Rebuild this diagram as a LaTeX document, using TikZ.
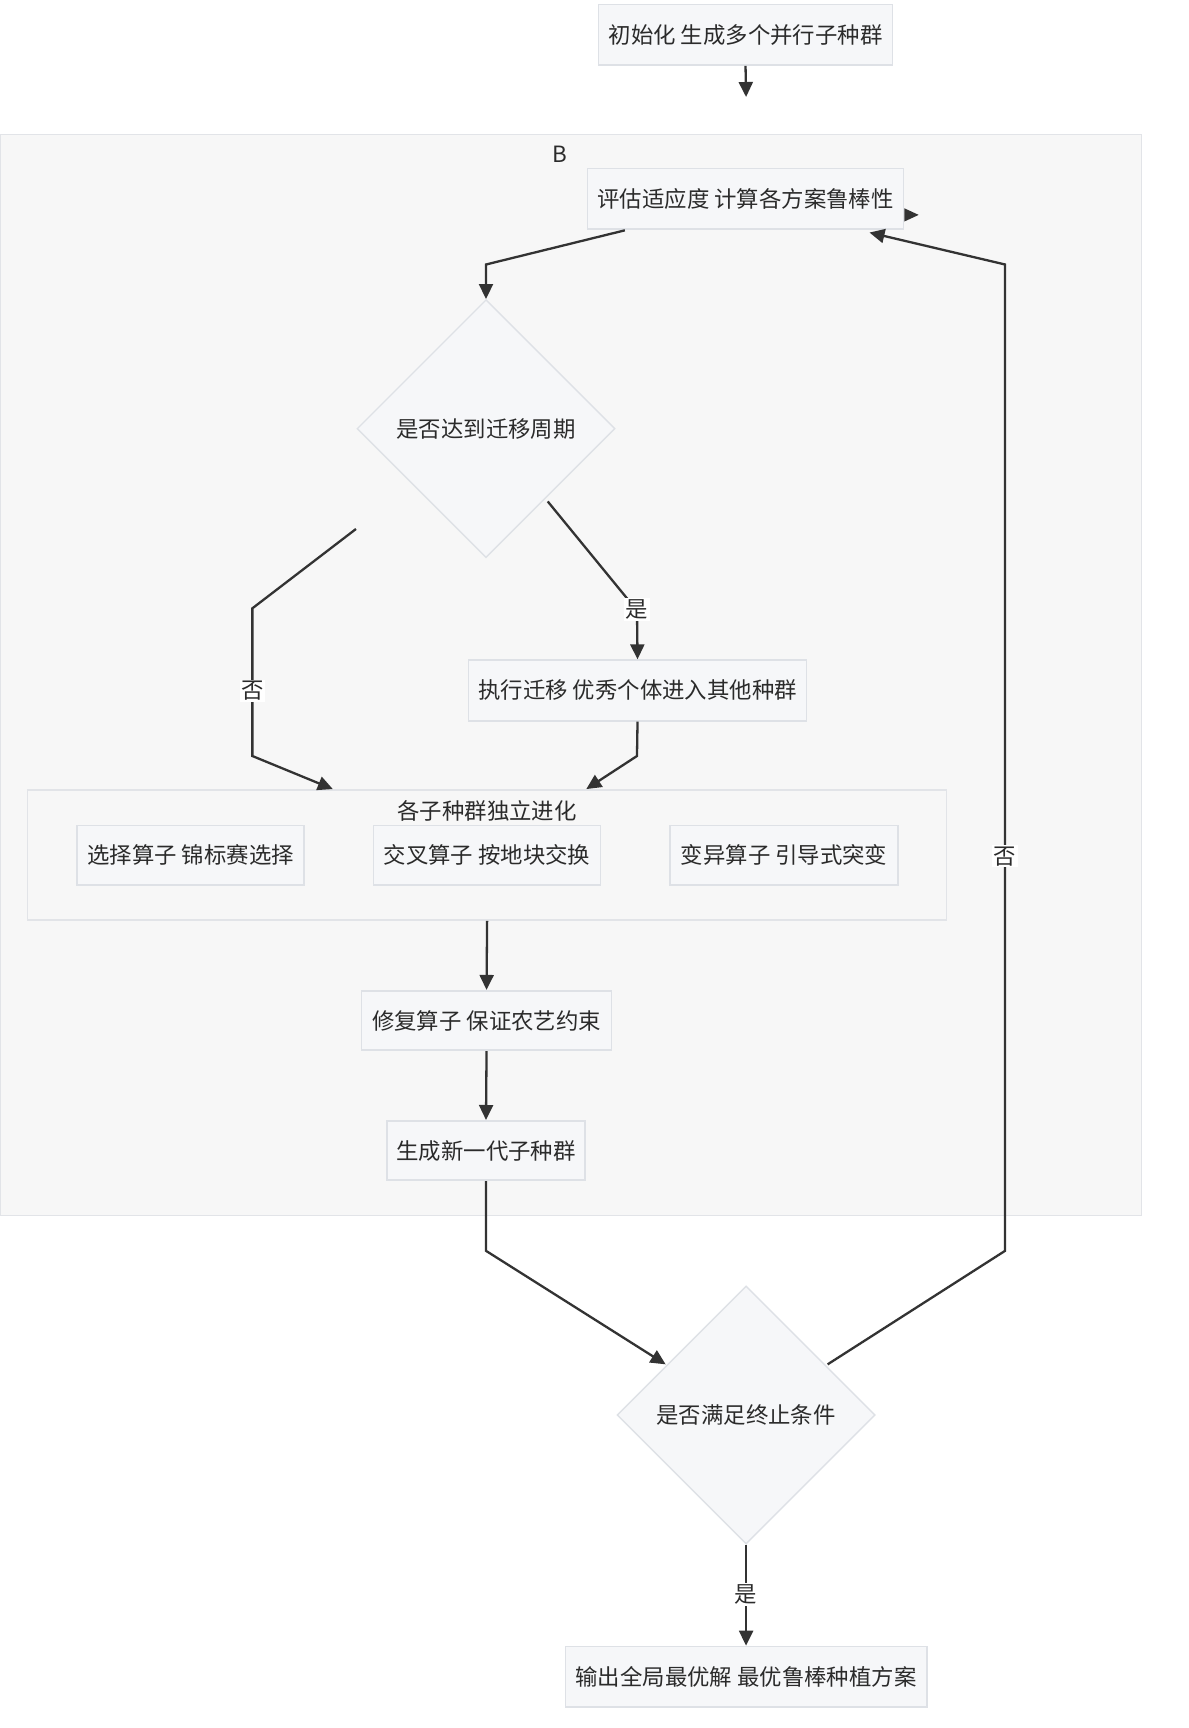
\documentclass[tikz,border=0pt]{standalone}
\usepackage{fontspec}
\setmainfont{Noto Sans CJK SC}
\usetikzlibrary{shapes.geometric,arrows.meta,calc}
\definecolor{nodefill}{HTML}{F6F7F9}
\definecolor{nodeborder}{HTML}{DEE1E6}
\definecolor{clusterfill}{HTML}{F7F7F7}
\definecolor{clusterborder}{HTML}{E2E4E8}
\definecolor{edgecol}{HTML}{333333}
\definecolor{txtcol}{HTML}{2B2B2B}
\tikzset{
  basefont/.style={font=\fontsize{22.4pt}{26pt}\selectfont, text=txtcol},
  procbox/.style={basefont, rectangle, draw=nodeborder, fill=nodefill, line width=1.6pt, inner sep=0pt},
  decision/.style={basefont, diamond, draw=nodeborder, fill=nodefill, line width=1.4pt, inner sep=0pt, minimum width=258pt, minimum height=258pt},
  clusterbox/.style={rectangle, draw=clusterborder, fill=clusterfill, line width=1.4pt, inner sep=0pt},
  flow/.style={draw=edgecol, line width=2.3pt, -{Triangle[length=15pt,width=14pt]}},
  flowplain/.style={draw=edgecol, line width=2.3pt},
  elabel/.style={basefont, fill=white, inner sep=1.5pt}
}
\begin{document}
\begin{tikzpicture}[x=1.10204pt,y=-1.10204pt]
\useasboundingbox (0,0) rectangle (1078,1568);
\fill[white] (0,0) rectangle (1078,1568);

% outer cluster B
\node[clusterbox, minimum width=1141.7pt, minimum height=1081.1pt] (clB) at (518,612.5) {};
\node[basefont] (labB) at (508,140) {B};

% nodes
\node[procbox, minimum width=294pt, minimum height=60.6pt] (init) at (676.5,31.5) {初始化 生成多个并行子种群};
\node[procbox, minimum width=316pt, minimum height=60.6pt] (eval) at (676.5,180.5) {评估适应度 计算各方案鲁棒性};
\node[decision] (d1) at (441,389) {是否达到迁移周期};
\node[procbox, minimum width=338pt, minimum height=60.6pt] (mig) at (578.5,626.5) {执行迁移 优秀个体进入其他种群};

% inner cluster
\node[clusterbox, minimum width=919pt, minimum height=130pt] (evo) at (442,776) {};
\node[basefont] (evolab) at (442,736) {各子种群独立进化};
\node[procbox, minimum width=227pt, minimum height=59.5pt] (sel) at (173,776) {选择算子 锦标赛选择};
\node[procbox, minimum width=227pt, minimum height=59.5pt] (cro) at (442,776) {交叉算子 按地块交换};
\node[procbox, minimum width=228pt, minimum height=59.5pt] (mut) at (711.5,776) {变异算子 引导式突变};

\node[procbox, minimum width=250pt, minimum height=59.5pt] (rep) at (441.5,926) {修复算子 保证农艺约束};
\node[procbox, minimum width=198pt, minimum height=59.5pt] (gen) at (441,1044) {生成新一代子种群};
\node[decision] (d2) at (677,1284) {是否满足终止条件};
\node[procbox, minimum width=361.5pt, minimum height=60.6pt] (out) at (677,1521.5) {输出全局最优解 最优鲁棒种植方案};

% helper coordinates
\coordinate (initend) at (677,88);
\coordinate (evalout) at (567,209);
\coordinate (e1) at (441,240);
\coordinate (d1no) at (323,480);
\coordinate (n1) at (229,552);
\coordinate (n2) at (229,686);
\coordinate (evoinL) at (302,716);
\coordinate (d1yes) at (497,455);
\coordinate (y1) at (578,554);
\coordinate (m1) at (578,686);
\coordinate (evoinR) at (532,716);
\coordinate (g1) at (441,1135);
\coordinate (d2in) at (604,1238);
\coordinate (d2no) at (751,1238);
\coordinate (r1) at (912,1135);
\coordinate (r2) at (912,240);
\coordinate (evalin) at (789,211);

% edges
\draw[flow] (init.south) -- (initend);
\fill[edgecol] (eval.east |- 0,189) -- ++(13,6) -- ++(-13,6) -- cycle;
\draw[flow] (evalout) -- (e1) -- (d1.north);
\draw[flow] (d1no) -- (n1) -- node[elabel, pos=0.56] {否} (n2) -- (evoinL);
\draw[flowplain] (d1yes) -- (y1);
\draw[flow] (y1) -- (mig.north);
\node[elabel] at (578,553) {是};
\draw[flow] (mig.south) -- (m1) -- (evoinR);
\draw[flow] (evo.south) -- (rep.north);
\draw[flow] (rep.south) -- (gen.north);
\draw[flow] (gen.south) -- (g1) -- (d2in);
\draw[flow] (d2no) -- (r1) -- node[elabel, pos=0.4] {否} (r2) -- (evalin);
\draw[flow] (d2.south) -- node[elabel, pos=0.49] {是} (out.north);
\end{tikzpicture}
\end{document}
